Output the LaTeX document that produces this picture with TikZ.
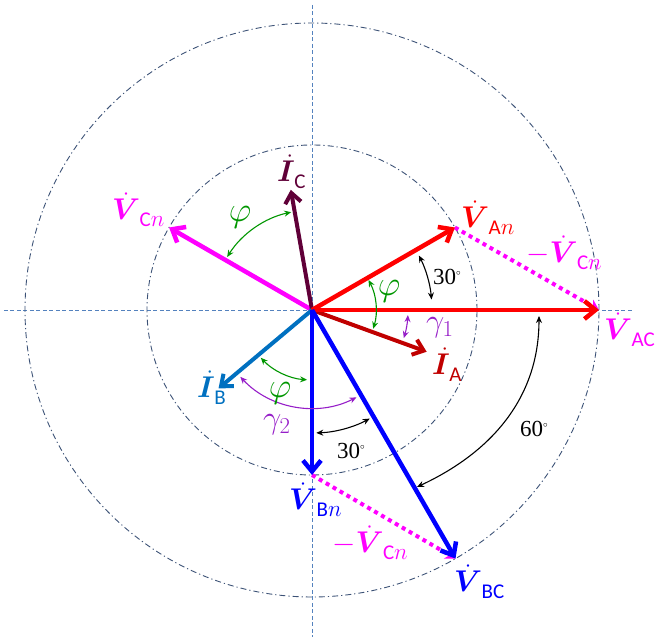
\RequirePackage{fix-cm}
\documentclass[tikz,border=0pt]{standalone}
\usepackage{bm}
\usepackage{graphicx}
\usepackage{fontspec}
\newfontfamily\subf{Carlito}
\newfontfamily\numf{Liberation Serif}
\usetikzlibrary{arrows.meta}
\definecolor{vred}{RGB}{255,0,0}
\definecolor{ired}{RGB}{192,0,0}
\definecolor{vmag}{RGB}{255,0,255}
\definecolor{icol}{RGB}{96,0,56}
\definecolor{iblue}{RGB}{0,112,192}
\definecolor{vblue}{RGB}{0,0,255}
\definecolor{phgreen}{RGB}{0,150,0}
\definecolor{gpurple}{RGB}{150,30,200}
\definecolor{circcol}{RGB}{60,82,118}
\definecolor{axcol}{RGB}{84,130,190}
\newcommand{\lbl}[2]{\scalebox{1.2}{$\dot{\bm{#1}}$}\kern-0.5pt\raisebox{-7pt}{\fontsize{21}{22}\selectfont #2}}
\newcommand{\sbU}[1]{{\subf #1}}
\newcommand{\sbUn}[1]{{\subf #1}\scalebox{1.1}{$n$}}
\newcommand{\dg}{\raisebox{9pt}{\fontsize{9}{9}\selectfont$\circ$}}
\begin{document}
\begin{tikzpicture}[x=1pt,y=1pt,
  vec/.style={line width=4.5pt,-{Straight Barb[length=11pt,width=18pt]}},
  ivec/.style={line width=4pt,-{Straight Barb[length=10pt,width=16pt]}},
  dotline/.style={vmag,line width=4pt,dash pattern=on 4pt off 4pt,-{Stealth[length=10pt,width=12pt]}},
  ang/.style={line width=1.1pt,{Stealth[length=7pt,width=6pt]}-{Stealth[length=7pt,width=6pt]}},
  axis/.style={axcol,line width=0.9pt,dash pattern=on 4pt off 2.5pt},
  circ/.style={circcol,line width=0.9pt,dash pattern=on 6pt off 3pt on 1.2pt off 3pt},
  lab/.style={inner sep=0pt,anchor=base west,font=\fontsize{25}{28}\selectfont},
  glab/.style={inner sep=0pt,font=\fontsize{25}{28}\selectfont},
  nlab/.style={inner sep=0pt,anchor=base west,font=\numf\fontsize{23}{26}\selectfont}]
\useasboundingbox (-312,-329) rectangle (345,310);
% axes
\coordinate (O) at (0,0);
\coordinate (xl) at (-308,0);
\coordinate (xr) at (322,0);
\coordinate (yt) at (0,305);
\coordinate (yb) at (0,-327);
\draw[axis] (xl) -- (xr);
\draw[axis] (yt) -- (yb);
% circles
\draw[circ] (O) circle[radius=165];
\draw[circ] (O) circle[radius=287];
% vector end points
\coordinate (An) at (30:165);
\coordinate (Bn) at (-90:165);
\coordinate (Cn) at (150:165);
\coordinate (AC) at (0:287);
\coordinate (BC) at (-60:287);
\coordinate (IA) at (-20:122);
\coordinate (IB) at (-140:122);
\coordinate (IC) at (100:122);
% dotted -Vcn
\draw[dotline] (An) -- (AC);
\draw[dotline] (Bn) -- (BC);
% vectors
\draw[vec,vmag] (O) -- (Cn);
\draw[ivec,icol] (O) -- (IC);
\draw[ivec,iblue] (O) -- (IB);
\draw[ivec,ired] (O) -- (IA);
\draw[vec,vred] (O) -- (An);
\draw[vec,vred] (O) -- (AC);
\draw[vec,vblue] (O) -- (Bn);
\draw[vec,vblue] (O) -- (BC);
% angle arcs
\draw[ang,phgreen] (148:100) arc[start angle=148,end angle=102,radius=100];
\draw[ang,phgreen] (28:64) arc[start angle=28,end angle=-17,radius=64];
\draw[ang,gpurple] (-3:96) arc[start angle=-3,end angle=-17,radius=96];
\draw[ang,black] (27:120) arc[start angle=27,end angle=5,radius=120];
\draw[ang,phgreen] (-137:70) arc[start angle=-137,end angle=-94,radius=70];
\draw[ang,gpurple] (-137:98) arc[start angle=-137,end angle=-63,radius=98];
\draw[ang,black] (-88:123) arc[start angle=-88,end angle=-62,radius=123];
\coordinate (s60a) at (227,-6);
\coordinate (s60b) at (105,-177);
\draw[ang,black] (s60a) to[out=-90,in=25] (s60b);
% labels
\node[lab,vmag] (lCn) at (-200,90) {\lbl{V}{\sbUn{C}}};
\node[lab,icol] (lIC) at (-35,128) {\lbl{I}{\sbU{C}}};
\node[lab,vred] (lAn) at (149,82) {\lbl{V}{\sbUn{A}}};
\node[lab,vmag] (lmCn1) at (214,47) {\scalebox{1.2}{$-$}\lbl{V}{\sbUn{C}}};
\node[lab,vmag] (lAC) at (292,-30) {\lbl{V}{\sbU{AC}}};
\node[lab,ired] (lIA) at (120,-65) {\lbl{I}{\sbU{A}}};
\node[lab,iblue] (lIB) at (-115,-88) {\lbl{I}{\sbU{B}}};
\node[lab,vblue] (lBn) at (-23,-200) {\lbl{V}{\sbUn{B}}};
\node[lab,vmag] (lmCn2) at (20,-243) {\scalebox{1.2}{$-$}\lbl{V}{\sbUn{C}}};
\node[lab,vblue] (lBC) at (142,-282) {\lbl{V}{\sbU{BC}}};
\node[glab,phgreen] (p1) at (-72,93) {\scalebox{1.4}{$\varphi$}};
\node[glab,phgreen] (p2) at (77,19) {\scalebox{1.4}{$\varphi$}};
\node[glab,phgreen] (p3) at (-32,-83) {\scalebox{1.4}{$\varphi$}};
\node[glab,gpurple] (g1) at (128,-18) {\scalebox{1.3}{$\gamma_1$}};
\node[glab,gpurple] (g2) at (-35,-115) {\scalebox{1.3}{$\gamma_2$}};
\node[nlab] (a30u) at (121,25) {30\dg};
\node[nlab] (a60) at (208,-127) {60\dg};
\node[nlab] (a30l) at (25,-149) {30\dg};
\end{tikzpicture}
\end{document}
